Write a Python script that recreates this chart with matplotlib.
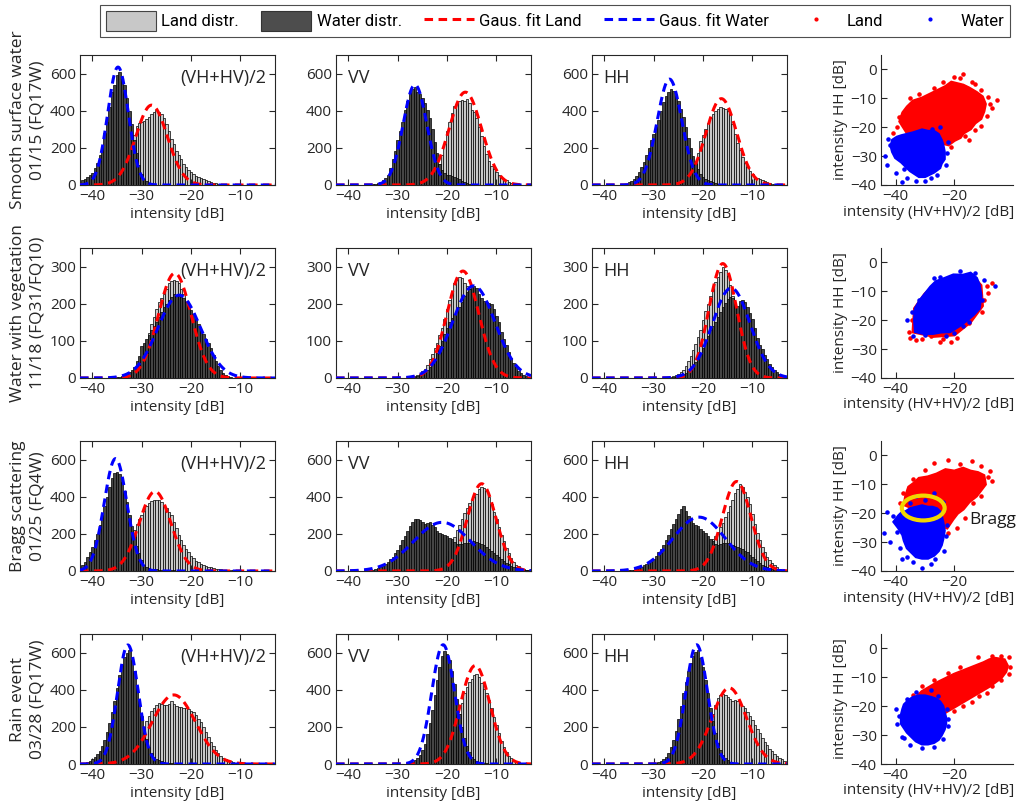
import numpy as np
import matplotlib
matplotlib.use("Agg")
import matplotlib.pyplot as plt
from matplotlib.patches import Patch, Ellipse
from matplotlib.lines import Line2D

plt.rcParams['font.family'] = ['Open Sans', 'DejaVu Sans']

# ---------------- histogram data (0.5 dB bins) ----------------
BIN = 0.5
# first bin centre of every series, rows = scenes, cols = (VH+HV)/2, VV, HH
land_start = [[-35, -25, -25], [-33, -27, -27], [-34.5, -22, -22], [-33, -22, -23]]
water_start = [[-42, -35, -36], [-35, -27, -26], [-42, -36, -35], [-42, -28, -30]]

land_smooth = [
    [10, 20, 35, 60, 100, 150, 210, 270, 320, 335, 340, 345, 355, 365, 380, 395, 405, 395, 385, 360, 330, 290, 250, 220,
     185, 160, 140, 115, 95, 80, 68, 58, 50, 43, 38, 32, 27, 22, 17, 13, 10, 7, 5, 3, 2],
    [5, 10, 15, 22, 35, 55, 80, 115, 160, 220, 290, 340, 390, 425, 445, 455, 460, 455, 462, 440, 405, 395, 360, 310,
     265, 210, 165, 130, 105, 85, 68, 52, 40, 32, 25, 18, 13, 9, 6, 3],
    [3, 6, 10, 18, 30, 50, 80, 120, 175, 235, 270, 300, 335, 360, 385, 400, 410, 418, 414, 408, 398, 380, 330, 275,
     225, 190, 150, 120, 95, 78, 60, 45, 36, 30, 26, 22, 18, 12, 7, 4],
]
water_smooth = [
    [25, 35, 45, 55, 65, 90, 120, 160, 210, 280, 340, 420, 500, 540, 590, 610, 570, 540, 470, 400, 330, 240, 170, 110,
     60, 35, 20, 10, 5],
    [5, 8, 12, 18, 26, 38, 55, 90, 140, 185, 240, 290, 340, 405, 455, 495, 515, 530, 500, 490, 470, 440, 405, 360, 300,
     230, 170, 115, 80, 62, 56, 52, 48, 44, 38, 30, 24, 17, 12, 8, 5, 3],
    [5, 8, 14, 22, 35, 50, 70, 95, 125, 160, 200, 240, 275, 310, 350, 400, 445, 480, 500, 518, 505, 480, 450, 410, 365,
     310, 255, 200, 155, 115, 85, 60, 45, 35, 28, 22, 16, 12, 8, 5, 3],
]
land_veg = [
    [3, 5, 8, 15, 25, 40, 55, 75, 95, 120, 145, 165, 185, 205, 215, 225, 240, 255, 260, 265, 262, 255, 240, 225, 200,
     180, 155, 130, 110, 85, 65, 50, 35, 25, 18, 12, 8, 5, 3],
    [3, 5, 8, 12, 18, 25, 35, 50, 65, 80, 95, 115, 135, 160, 185, 210, 235, 255, 265, 272, 268, 255, 248, 240, 225,
     205, 180, 150, 120, 95, 72, 52, 38, 27, 18, 12, 8, 5, 3],
    [2, 3, 5, 8, 12, 16, 22, 32, 45, 58, 75, 92, 110, 130, 155, 180, 200, 220, 240, 258, 272, 285, 300, 290, 275, 250,
     220, 185, 150, 118, 90, 65, 45, 30, 20, 13, 8, 5, 3],
]
water_veg = [
    [3, 4, 6, 8, 11, 15, 22, 30, 45, 60, 85, 95, 105, 115, 128, 140, 152, 165, 178, 190, 200, 210, 218, 225, 222, 220,
     218, 215, 205, 192, 182, 172, 160, 145, 130, 118, 106, 95, 80, 62, 45, 32, 22, 14, 9, 5, 3],
    [2, 3, 5, 7, 10, 15, 22, 30, 40, 52, 68, 85, 100, 118, 135, 150, 162, 172, 180, 190, 205, 220, 232, 240, 245, 248,
     242, 225, 215, 208, 205, 203, 198, 185, 168, 150, 125, 105, 88, 70, 55, 40, 30, 20, 14, 9, 6, 4],
    [2, 3, 5, 7, 10, 14, 20, 26, 32, 42, 55, 68, 82, 98, 112, 128, 140, 152, 165, 178, 190, 202, 212, 218, 215, 200,
     195, 208, 210, 205, 190, 175, 158, 135, 108, 90, 78, 62, 50, 38, 30, 22, 16, 12, 8, 5],
]
land_bragg = [
    [10, 20, 35, 60, 110, 170, 220, 255, 280, 300, 325, 350, 365, 375, 385, 385, 380, 370, 355, 340, 320, 300, 265,
     230, 195, 165, 140, 118, 100, 82, 68, 56, 47, 40, 34, 28, 24, 20, 16, 13, 11, 9, 7, 6, 5, 4, 3, 2],
    [10, 20, 35, 55, 80, 110, 145, 185, 220, 250, 280, 310, 340, 365, 385, 400, 415, 440, 455, 448, 430, 400, 360, 320,
     280, 235, 195, 160, 125, 95, 70, 50, 35, 25, 16, 10, 6, 3],
    [10, 18, 28, 42, 60, 85, 110, 140, 170, 190, 210, 235, 260, 290, 320, 350, 380, 420, 440, 470, 455, 425, 400, 360,
     305, 255, 205, 165, 130, 100, 78, 58, 42, 30, 20, 13, 8, 5],
]
water_bragg = [
    [35, 50, 75, 100, 130, 165, 200, 250, 300, 350, 400, 450, 500, 530, 535, 525, 480, 430, 370, 300, 240, 185, 135,
     95, 60, 35, 22, 15, 12, 10, 9, 8, 7, 6, 5, 4, 3, 3, 2],
    [3, 5, 7, 10, 14, 20, 28, 38, 48, 62, 78, 95, 115, 140, 165, 190, 215, 240, 262, 280, 282, 276, 265, 252, 258, 262,
     250, 235, 215, 205, 200, 195, 188, 180, 170, 158, 148, 145, 148, 150, 150, 152, 158, 160, 155, 150, 145, 138, 128,
     118, 108, 96, 85, 75, 64, 52, 44, 36, 29, 24, 19, 14, 10, 7, 5, 3],
    [3, 5, 8, 12, 17, 23, 30, 38, 48, 55, 65, 80, 100, 120, 140, 165, 195, 225, 255, 280, 305, 335, 352, 325, 295, 275,
     258, 248, 240, 228, 215, 202, 190, 175, 160, 148, 140, 145, 150, 152, 150, 145, 140, 135, 130, 125, 120, 110, 100,
     88, 75, 65, 55, 45, 35, 27, 20, 14, 10, 7, 5, 3],
]
land_rain = [
    [20, 35, 55, 80, 110, 140, 170, 200, 230, 260, 285, 300, 320, 330, 325, 320, 318, 325, 340, 325, 310, 308, 305,
     302, 300, 295, 288, 278, 265, 245, 225, 200, 175, 145, 118, 95, 75, 58, 45, 34, 26, 19, 14, 10, 7, 5, 3],
    [5, 10, 20, 35, 55, 85, 120, 165, 215, 270, 330, 380, 415, 440, 460, 478, 485, 470, 435, 405, 380, 345, 300, 255,
     210, 165, 125, 92, 65, 45, 32, 22, 15, 10, 6, 4, 2],
    [5, 10, 18, 30, 45, 65, 95, 130, 175, 220, 270, 320, 355, 372, 378, 370, 360, 348, 340, 345, 340, 330, 315, 300,
     280, 258, 235, 210, 188, 165, 142, 120, 100, 82, 68, 54, 42, 32, 25, 18],
]
water_rain = [
    [5, 8, 12, 18, 26, 38, 52, 70, 95, 130, 170, 220, 280, 340, 410, 480, 540, 575, 600, 612, 560, 500, 420, 340, 260,
     190, 135, 90, 60, 40, 28, 20, 14, 10, 7, 5, 3],
    [5, 8, 12, 20, 32, 50, 75, 110, 160, 220, 290, 370, 450, 520, 580, 610, 595, 560, 500, 430, 350, 270, 200, 140, 95,
     62, 40, 26, 17, 11, 7, 5, 3],
    [3, 6, 10, 16, 25, 40, 60, 90, 130, 180, 240, 310, 380, 440, 500, 545, 580, 605, 612, 570, 520, 450, 380, 300, 230,
     165, 115, 78, 50, 32, 20, 13, 8, 5, 3],
]
land_hist = [land_smooth, land_veg, land_bragg, land_rain]
water_hist = [water_smooth, water_veg, water_bragg, water_rain]

# Gaussian fits: (mean, sigma, peak)
gauss_land = [
    [(-28.0, 3.2, 430), (-16.3, 3.3, 500), (-16.3, 3.1, 465)],
    [(-23.3, 3.3, 282), (-16.8, 3.2, 288), (-16.0, 2.8, 308)],
    [(-27.3, 3.2, 428), (-13.0, 2.9, 470), (-13.2, 2.9, 482)],
    [(-23.5, 4.4, 372), (-14.3, 3.0, 530), (-14.7, 3.5, 410)],
]
gauss_water = [
    [(-34.8, 2.1, 635), (-26.5, 2.4, 540), (-26.8, 2.5, 570)],
    [(-22.4, 4.3, 223), (-14.6, 4.3, 248), (-14.3, 3.8, 242)],
    [(-35.3, 2.3, 605), (-21.0, 5.8, 262), (-20.8, 5.3, 290)],
    [(-32.8, 2.1, 641), (-20.8, 2.3, 642), (-21.3, 2.2, 642)],
]

# ---------------- scatter data: dense cloud outline + stray points ----------------
land_cloud = [
    [(-38.5, -18), (-37.5, -15), (-36, -13), (-34, -11), (-31, -10), (-28, -8.5), (-26, -7.5), (-23, -6),
     (-21, -4.5), (-19, -5), (-17, -5.5), (-15, -6.5), (-12.5, -8), (-10.5, -9.5), (-9.5, -12), (-10, -14.5),
     (-11, -17), (-13, -18.5), (-14.5, -20.5), (-17, -22), (-18, -23.5), (-20, -24.5), (-22, -26), (-26, -25),
     (-32, -24), (-36, -22)],
    [(-34, -24), (-33.5, -16), (-30, -11), (-26, -7), (-20, -5), (-14, -4.5), (-11, -8), (-10.5, -15), (-14.5, -20.5),
     (-20, -25), (-27, -25.5)],
    [(-37, -17), (-36.5, -14), (-35.5, -11), (-33.5, -9.5), (-32, -8), (-29, -7.5), (-26, -6.5), (-23, -5),
     (-20, -5.5), (-17, -4.5), (-14.5, -5.5), (-12, -6), (-10, -7), (-9.5, -10), (-11, -12), (-12.5, -14),
     (-15, -16), (-17, -18.5), (-19, -20), (-20.5, -22), (-22.5, -25), (-25, -24), (-30, -20)],
    [(-34, -19), (-32.5, -16.5), (-31, -15), (-28.5, -13.5), (-26, -12), (-23, -10.5), (-20, -9), (-17.5, -8),
     (-15, -7), (-12.5, -6), (-10, -5), (-8, -4), (-6, -3.5), (-3, -4), (-2, -6), (-2.5, -8), (-4, -10),
     (-6, -11.5), (-8, -13), (-10.5, -14.5), (-13, -16), (-15.5, -17.5), (-18, -19), (-20.5, -20.5), (-23, -22),
     (-25, -23.5), (-27, -24), (-31, -23)],
]
land_stray = [
    [(-41, -22), (-39.5, -20), (-39, -16.5), (-36, -15), (-35, -10), (-32, -8.5), (-27, -6.5), (-24, -4.5),
     (-18, -3), (-17, -1.5), (-20, -2.5), (-14, -4.5), (-13, -5), (-11, -7), (-8, -12), (-5.5, -10.5), (-7, -13.5),
     (-8.5, -9.5), (-9, -16), (-11, -19.5), (-13, -21), (-15, -24.5), (-21, -27), (-38, -16), (-16.5, -23)],
    [(-35.5, -24), (-34.5, -20), (-33, -27), (-24, -26.5), (-21, -27.5), (-19, -26), (-12, -14), (-10, -13), (-9, -8),
     (-7, -7), (-15, -21), (-28, -25.5), (-35, -26), (-31, -26.5), (-10.5, -17), (-8.5, -10.5), (-25, -27.5)],
    [(-38.5, -16.5), (-27, -2.5), (-22, -1.5), (-14, -2), (-11, -3.5), (-8, -5.5), (-7, -9), (-11, -14), (-19, -25),
     (-22, -27), (-16.5, -21.5), (-37.5, -13), (-34, -8), (-30, -5), (-18, -3), (-8.5, -7.5), (-13.5, -16.5)],
    [(-36, -20), (-34, -16), (-31, -13), (-27, -11), (-22, -8.5), (-18, -6.5), (-12, -3), (-7, -2.5), (-4, -2.5),
     (-1.5, -3), (-1, -6.5), (-1.5, -9), (-4, -11), (-7, -13), (-9, -15.5), (-11.5, -16.5), (-14, -18.5), (-17, -20),
     (-20, -21.5), (-26, -24), (-29, -25)],
]
water_cloud = [
    [(-41, -24.5), (-39.5, -23.5), (-38, -23), (-36, -22.5), (-34, -22), (-31, -21), (-29, -21.5), (-27, -21.5),
     (-25.5, -22.5), (-24.5, -24.5), (-24, -26), (-23.5, -28.5), (-23.5, -31), (-24.5, -32.5), (-25, -34),
     (-27, -35.5), (-28, -36), (-30, -37), (-32, -37), (-33.5, -36), (-35, -35), (-36.5, -33.5), (-38, -32),
     (-40, -30.5), (-41, -28.5), (-41.5, -26.5)],
    [(-33.2, -23.9), (-33.5, -20), (-33.2, -15.9), (-31.5, -13), (-29.7, -10.7), (-28, -8.5), (-26.2, -6.7),
     (-23, -5.5), (-20.3, -4.4), (-17, -4.5), (-14.5, -3.8), (-12.5, -5.5), (-11.6, -7.8), (-11, -11.5),
     (-11.6, -15.9), (-13.5, -18), (-15.7, -19.9), (-18.5, -22), (-21.5, -23.9), (-24.5, -24), (-27.3, -24.5),
     (-30.5, -24.5)],
    [(-40.5, -23), (-39, -21), (-38, -20), (-36.5, -19.5), (-35, -18.5), (-33, -18), (-31, -17.5), (-29, -18),
     (-27.5, -18), (-26, -18.5), (-25, -19.5), (-24.5, -21), (-24, -23), (-23.5, -26), (-24, -29), (-24.5, -31),
     (-25.5, -33), (-27, -34.5), (-29, -35.5), (-31, -35.5), (-33, -35), (-34.5, -33.5), (-36, -32),
     (-37, -29.5), (-37.5, -27.5), (-39, -25)],
    [(-38, -23), (-37.5, -21), (-37, -19.5), (-35.5, -18), (-34, -17), (-32, -16.5), (-30, -16.5), (-28, -17),
     (-26.5, -17.5), (-25, -18.5), (-24, -20), (-23.5, -22), (-23, -24), (-23, -26), (-23.5, -28), (-24.5, -30),
     (-25.5, -31.5), (-27, -32.5), (-29, -33), (-31, -33), (-33, -32), (-34.5, -30.5), (-36, -29), (-37, -27.5),
     (-38, -26)],
]
water_stray = [
    [(-43.5, -30), (-42, -26), (-38, -39), (-33, -38.5), (-30, -38.5), (-28, -37.5), (-23, -33), (-22, -25), (-25, -20),
     (-43, -33), (-40, -36), (-42.5, -24), (-37, -34.5), (-36, -37.5), (-26, -36.5), (-22.5, -29), (-27.5, -20.5)],
    [(-36, -20), (-34, -25.5), (-30, -25), (-23, -25.5), (-25, -5), (-18, -3), (-13, -3.5), (-6, -8), (-15, -20.5),
     (-32, -13), (-17, -22), (-34.5, -17), (-27, -5.5), (-10, -6), (-10.5, -13), (-20, -24.5)],
    [(-43, -19.5), (-41, -21), (-44, -27), (-42, -30), (-34, -37), (-31, -39), (-28, -37.5), (-33, -14), (-30, -15.5),
     (-27, -13), (-24, -16), (-22.5, -24), (-38, -36), (-39.5, -26.5), (-38.5, -32), (-36, -35), (-23, -28),
     (-23.5, -33), (-35, -16.5), (-26.5, -36)],
    [(-40, -21), (-39.5, -26), (-38, -30.5), (-35, -33.5), (-31, -34.5), (-27, -34), (-22, -27), (-22.5, -21),
     (-28, -14.5), (-33, -15), (-36, -17.5), (-39, -23.5), (-37, -31), (-24, -31.5), (-22, -24.5), (-25.5, -16.5)],
]

row_labels = ['Smooth surface water\n01/15 (FQ17W)', 'Water with vegetation\n11/18 (FQ31/FQ10)',
              'Bragg scattering\n01/25 (FQ4W)', 'Rain event\n03/28 (FQ17W)']
pol_labels = ['(VH+HV)/2', 'VV', 'HH']
row_ymax = [700, 350, 700, 700]
row_yticks = [[0, 200, 400, 600], [0, 100, 200, 300], [0, 200, 400, 600], [0, 200, 400, 600]]

LAND_FC = '#c8c8c8'
WATER_FC = '#454545'
AX_C = '#262626'
DASH = (0, (2.8, 1.8))

W, H = 1024, 809
fig = plt.figure(figsize=(W / 100, H / 100), dpi=100)

col_left = [80, 336, 592]
row_top = [55, 248, 441, 634]
ax_h = 130

xg = np.linspace(-42.5, -3, 400)


def gauss(x, p):
    mu, sig, peak = p
    return peak * np.exp(-(x - mu) ** 2 / (2 * sig ** 2))


for r in range(4):
    bottom = 1 - (row_top[r] + ax_h) / H
    for c in range(3):
        ax = fig.add_axes([col_left[c] / W, bottom, 195 / W, ax_h / H])
        lv = land_hist[r][c]
        wv = water_hist[r][c]
        lx = land_start[r][c] + BIN * np.arange(len(lv))
        wx = water_start[r][c] + BIN * np.arange(len(wv))
        ax.bar(lx, lv, width=BIN, color=LAND_FC, edgecolor='black', linewidth=0.5, zorder=1)
        ax.bar(wx, wv, width=BIN, color=WATER_FC, edgecolor='black', linewidth=0.5, zorder=2)
        ax.plot(xg, gauss(xg, gauss_land[r][c]), color='red', lw=2.2, ls=DASH, zorder=3)
        ax.plot(xg, gauss(xg, gauss_water[r][c]), color='blue', lw=2.2, ls=DASH, zorder=3)
        ax.set_xlim(-42.5, -3)
        ax.set_ylim(0, row_ymax[r])
        ax.set_xticks([-40, -30, -20, -10])
        ax.set_yticks(row_yticks[r])
        ax.tick_params(direction='in', top=True, right=True, length=4, width=0.8,
                       labelsize=11, colors=AX_C, pad=3)
        for s in ax.spines.values():
            s.set_color(AX_C)
            s.set_linewidth(0.8)
        ax.set_xlabel('intensity [dB]', fontsize=11, color=AX_C, labelpad=2)
        if c == 0:
            ax.text(0.955, 0.82, pol_labels[c], transform=ax.transAxes, ha='right', va='center',
                    fontsize=13, color=AX_C)
        else:
            ax.text(0.06, 0.82, pol_labels[c], transform=ax.transAxes, ha='left', va='center',
                    fontsize=13, color=AX_C)

    # scatter HH vs cross-pol
    ax = fig.add_axes([881 / W, bottom, 132 / W, ax_h / H])
    lc = np.array(land_cloud[r])
    ls_ = np.array(land_stray[r])
    wc = np.array(water_cloud[r])
    ws = np.array(water_stray[r])
    ax.fill(lc[:, 0], lc[:, 1], facecolor='red', edgecolor='red', lw=2.5, zorder=1)
    ax.plot(ls_[:, 0], ls_[:, 1], '.', color='red', ms=4.5, zorder=1)
    ax.fill(wc[:, 0], wc[:, 1], facecolor='blue', edgecolor='blue', lw=2.5, zorder=2)
    ax.plot(ws[:, 0], ws[:, 1], '.', color='blue', ms=4.5, zorder=2)
    ax.set_xlim(-45, 0)
    ax.set_ylim(-40, 5)
    ax.set_xticks([-40, -20])
    ax.set_yticks([-40, -30, -20, -10, 0])
    ax.spines['top'].set_visible(False)
    ax.spines['right'].set_visible(False)
    for s in ('left', 'bottom'):
        ax.spines[s].set_color(AX_C)
        ax.spines[s].set_linewidth(0.8)
    ax.tick_params(direction='in', length=4, width=0.8, labelsize=11, colors=AX_C, pad=3)
    ax.set_ylabel('intensity HH [dB]', fontsize=11, color=AX_C, labelpad=2)
    ax.set_xlabel('intensity (HV+HV)/2 [dB]', fontsize=11, color=AX_C)
    ax.xaxis.set_label_coords(0.36, -0.15)
    if r == 2:
        ax.add_patch(Ellipse((-30.6, -18.2), 14.6, 8.6, fill=False, edgecolor='#f2d600', lw=3, zorder=4))
        ax.text(-14.8, -22.2, 'Bragg', fontsize=12.5, ha='left', va='center', color='#1a1a1a')

    fig.text(28 / W, 1 - (row_top[r] + ax_h / 2) / H, row_labels[r], rotation=90, ha='center', va='center',
             fontsize=12.5, color=AX_C, linespacing=1.25, multialignment='center')

handles = [
    Patch(facecolor=LAND_FC, edgecolor='#444444', lw=0.8),
    Patch(facecolor='#4d4d4d', edgecolor='#333333', lw=0.8),
    Line2D([], [], color='red', lw=2.2, ls=DASH),
    Line2D([], [], color='blue', lw=2.2, ls=DASH),
    Line2D([], [], color='red', marker='.', ls='none', ms=4),
    Line2D([], [], color='blue', marker='.', ls='none', ms=4),
]
labels = ['Land distr.', 'Water distr.', 'Gaus. fit Land', 'Gaus. fit Water', 'Land', 'Water']
leg = fig.legend(handles, labels, loc='upper center', bbox_to_anchor=(0.542, 0.998), ncol=6,
                 frameon=True, fancybox=False, edgecolor='#222222',
                 prop={'family': ['Roboto', 'DejaVu Sans'], 'size': 12},
                 handlelength=3.0, handleheight=1.5, columnspacing=1.3, handletextpad=0.35,
                 borderpad=0.35, borderaxespad=0.2)
leg.get_frame().set_linewidth(0.8)

fig.savefig('out.png', dpi=100)
